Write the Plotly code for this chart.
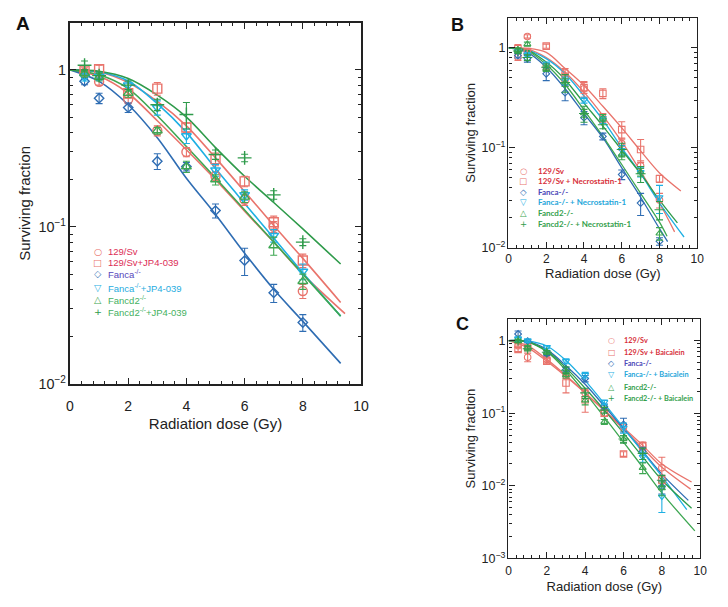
import plotly.graph_objects as go

# page is drawn with an 8px body margin; keep the figure inside the window
OFF = 8
W, H = 728 - 2 * OFF, 607 - 2 * OFF


def PX(p):
    return (p - OFF) / W


def PY(p):
    return 1 - (p - OFF) / H


# ---------------- data ----------------
dose = [0.5, 1, 2, 3, 4, 5, 6, 7, 8]

# Panel A (JP4-039)
A_sv = [0.96, 0.84, 0.65, 0.41, 0.30, 0.21, 0.149, 0.10, 0.039]
A_sv_err = [0.04, 0.04, 0.04, 0.03, 0.02, 0.015, 0.012, 0.008, 0.004]
A_svjp = [0.99, 1.01, 0.71, 0.76, 0.43, 0.27, 0.195, 0.107, 0.061]
A_svjp_err = [0.05, 0.06, 0.05, 0.07, 0.03, 0.025, 0.015, 0.01, 0.006]
A_fanca = [0.845, 0.66, 0.575, 0.262, 0.242, 0.127, 0.061, 0.038, 0.0246]
A_fanca_err = [0.04, 0.05, 0.04, 0.03, 0.015, 0.013, 0.012, 0.005, 0.003]
A_fancajp = [0.90, 0.91, 0.80, 0.575, 0.38, 0.23, 0.16, 0.088, 0.052]
A_fancajp_err = [0.05, 0.05, 0.05, 0.06, 0.04, 0.02, 0.012, 0.008, 0.006]
A_fancd2 = [0.95, 0.90, 0.71, 0.41, 0.242, 0.20, 0.155, 0.076, 0.045]
A_fancd2_err = [0.05, 0.05, 0.04, 0.02, 0.02, 0.015, 0.012, 0.01, 0.005]
A_fancd2jp = [1.07, 0.92, 0.80, 0.60, 0.52, 0.289, 0.275, 0.16, 0.080]
A_fancd2jp_err = [0.07, 0.05, 0.05, 0.05, 0.10, 0.02, 0.015, 0.01, 0.004]

A_fit_x = [0, 1, 2, 3, 4, 5, 6, 7, 8]
A_fit_end_x = [9.45, 9.3, 9.3, 9.3, 9.3, 9.3]
A_fit_sv = [1, 0.91, 0.71, 0.474, 0.31, 0.20, 0.126, 0.08, 0.05, 0.028]
A_fit_svjp = [1, 0.97, 0.83, 0.63, 0.44, 0.275, 0.168, 0.102, 0.063, 0.033]
A_fit_fanca = [1, 0.845, 0.60, 0.37, 0.204, 0.12, 0.068, 0.04, 0.025, 0.0135]
A_fit_fancajp = [1, 0.97, 0.85, 0.61, 0.40, 0.235, 0.141, 0.085, 0.051, 0.027]
A_fit_fancd2 = [1, 0.93, 0.76, 0.51, 0.325, 0.205, 0.128, 0.08, 0.05, 0.027]
A_fit_fancd2jp = [1, 0.98, 0.88, 0.69, 0.50, 0.32, 0.21, 0.143, 0.097, 0.058]

A_labels = ["129/Sv", "129/Sv+JP4-039", "Fanca<sup>-/-</sup>",
            "Fanca<sup>-/-</sup>+JP4-039", "Fancd2<sup>-/-</sup>",
            "Fancd2<sup>-/-</sup>+JP4-039"]

# Panel B (Necrostatin-1)
B_sv = [0.81, 1.3, 0.65, 0.57, 0.39, 0.20, 0.11, 0.066, 0.03]
B_sv_err = [0.06, 0.05, 0.05, 0.05, 0.07, 0.02, 0.015, 0.008, 0.005]
B_svnec = [0.98, 0.92, 1.04, 0.51, 0.40, 0.35, 0.152, 0.096, 0.049]
B_svnec_err = [0.1, 0.05, 0.05, 0.05, 0.05, 0.04, 0.03, 0.025, 0.004]
B_fanca = [0.84, 0.78, 0.55, 0.356, 0.20, 0.13, 0.054, 0.028, 0.0116]
B_fanca_err = [0.05, 0.06, 0.08, 0.06, 0.03, 0.01, 0.006, 0.007, 0.001]
B_fancanec = [0.92, 0.85, 0.68, 0.47, 0.30, 0.19, 0.095, 0.057, 0.032]
B_fancanec_err = [0.04, 0.04, 0.04, 0.04, 0.02, 0.015, 0.01, 0.006, 0.01]
B_fancd2 = [0.95, 1.09, 0.62, 0.45, 0.222, 0.20, 0.086, 0.057, 0.0139]
B_fancd2_err = [0.05, 0.05, 0.04, 0.04, 0.02, 0.015, 0.01, 0.005, 0.002]
B_fancd2nec = [0.93, 0.80, 0.64, 0.45, 0.22, 0.17, 0.096, 0.055, 0.024]
B_fancd2nec_err = [0.05, 0.05, 0.05, 0.09, 0.04, 0.015, 0.015, 0.01, 0.005]

B_fit_x = [0, 1, 2, 3, 4, 5, 6, 7, 8]
B_fit_end_x = [8.8, 9.13, 8.43, 9.3, 8.4, 8.95]
B_fit_sv = [1, 0.97, 0.80, 0.57, 0.36, 0.21, 0.115, 0.058, 0.028, 0.0144]
B_fit_svnec = [1, 0.99, 0.90, 0.62, 0.42, 0.26, 0.158, 0.093, 0.056, 0.037]
B_fit_fanca = [1, 0.90, 0.64, 0.39, 0.22, 0.126, 0.063, 0.032, 0.0155, 0.0115]
B_fit_fancanec = [1, 0.95, 0.78, 0.55, 0.33, 0.19, 0.10, 0.055, 0.028, 0.0128]
B_fit_fancd2 = [1, 0.93, 0.68, 0.43, 0.24, 0.13, 0.068, 0.035, 0.018, 0.013]
B_fit_fancd2nec = [1, 0.95, 0.72, 0.48, 0.28, 0.165, 0.095, 0.055, 0.03, 0.0177]

B_labels = ["129/Sv", "129/Sv + Necrostatin-1", "Fanca-/-",
            "Fanca-/- + Necrostatin-1", "Fancd2-/-", "Fancd2-/- + Necrostatin-1"]

# Panel C (Baicalein)
C_sv = [0.85, 0.59, 0.55, 0.33, 0.19, 0.10, 0.065, 0.036, 0.0177]
C_sv_err = [0.05, 0.08, 0.04, 0.03, 0.02, 0.01, 0.006, 0.004, 0.007]
C_svbai = [0.755, 0.80, 0.52, 0.26, 0.153, 0.10, 0.0274, 0.0355, 0.012]
C_svbai_err = [0.05, 0.04, 0.04, 0.07, 0.05, 0.01, 0.002, 0.004, 0.002]
C_fanca = [1.23, 0.98, 0.66, 0.40, 0.30, 0.124, 0.07, 0.030, 0.0097]
C_fanca_err = [0.12, 0.05, 0.04, 0.03, 0.03, 0.01, 0.015, 0.004, 0.002]
C_fancabai = [1.05, 1.0, 0.81, 0.52, 0.335, 0.142, 0.063, 0.025, 0.0071]
C_fancabai_err = [0.08, 0.05, 0.04, 0.04, 0.03, 0.01, 0.01, 0.004, 0.0028]
C_fancd2 = [0.98, 0.80, 0.69, 0.335, 0.15, 0.076, 0.044, 0.0177, 0.0093]
C_fancd2_err = [0.05, 0.05, 0.04, 0.03, 0.02, 0.006, 0.005, 0.003, 0.002]
C_fancd2bai = [1.0, 0.77, 0.69, 0.39, 0.19, 0.11, 0.044, 0.028, 0.0119]
C_fancd2bai_err = [0.05, 0.05, 0.04, 0.04, 0.03, 0.01, 0.005, 0.005, 0.002]

C_fit_x = [0, 1, 2, 3, 4, 5, 6, 7, 8]
C_fit_end_x = [9.55, 9.5, 9.38, 9.3, 9.72, 9.55]
C_fit_sv = [1, 0.80, 0.52, 0.32, 0.19, 0.11, 0.063, 0.036, 0.02, 0.0113]
C_fit_svbai = [1, 0.85, 0.55, 0.33, 0.19, 0.108, 0.06, 0.033, 0.018, 0.009]
C_fit_fanca = [1, 0.97, 0.75, 0.45, 0.25, 0.125, 0.062, 0.03, 0.0145, 0.0063]
C_fit_fancabai = [1, 0.99, 0.84, 0.53, 0.28, 0.135, 0.063, 0.029, 0.0135, 0.0047]
C_fit_fancd2 = [1, 0.95, 0.70, 0.39, 0.19, 0.088, 0.04, 0.018, 0.008, 0.0024]
C_fit_fancd2bai = [1, 0.96, 0.72, 0.42, 0.22, 0.11, 0.053, 0.025, 0.012, 0.0049]

C_labels = ["129/Sv", "129/Sv + Baicalein", "Fanca-/-",
            "Fanca-/- + Baicalein", "Fancd2-/-", "Fancd2-/- + Baicalein"]

# ---------------- styles ----------------
RED = "#e9746c"
BLUE = "#2f6db3"
CYAN = "#1fb0e3"
GREEN = "#3ea752"
GREEN2 = "#2f9b4b"
series_colors = [RED, RED, BLUE, CYAN, GREEN, GREEN2]
symbols = ["circle-open", "square-open", "diamond-open",
           "triangle-down-open", "triangle-up-open", "cross-thin-open"]
size_scale = [1.0, 1.0, 0.8, 0.95, 0.95, 1.1]
leg_glyphs = ["○", "□", "◇", "▽", "△", "+"]
leg_text_colors = ["#dc2d55", "#dc2d55", "#5646bb", "#27ace0", "#45b15f", "#45b15f"]
leg_text_colors_bc = ["#d7303a", "#d7303a", "#4b47b8", "#25a6da", "#34a04c", "#34a04c"]

FONT = "Liberation Sans, Arial, sans-serif"

fig = go.Figure()


def add_panel(xa, ya, fit_x, ends, fits, series, errs, msize, lw, mlw):
    for i, fy in enumerate(fits):
        fig.add_trace(go.Scatter(
            x=fit_x + [ends[i]], y=fy, mode="lines",
            line=dict(color=series_colors[i], width=lw, shape="spline", smoothing=0.9),
            xaxis=xa, yaxis=ya, showlegend=False, hoverinfo="skip"))
    for i, sy in enumerate(series):
        fig.add_trace(go.Scatter(
            x=dose, y=sy, mode="markers",
            marker=dict(symbol=symbols[i], size=msize * size_scale[i],
                        color=series_colors[i],
                        line=dict(color=series_colors[i], width=mlw)),
            error_y=dict(type="data", array=errs[i], visible=True,
                         color=series_colors[i], thickness=1.1, width=3.5),
            xaxis=xa, yaxis=ya, showlegend=False))


add_panel("x", "y", A_fit_x, A_fit_end_x,
          [A_fit_sv, A_fit_svjp, A_fit_fanca, A_fit_fancajp, A_fit_fancd2, A_fit_fancd2jp],
          [A_sv, A_svjp, A_fanca, A_fancajp, A_fancd2, A_fancd2jp],
          [A_sv_err, A_svjp_err, A_fanca_err, A_fancajp_err, A_fancd2_err, A_fancd2jp_err],
          9, 1.6, 1.4)
add_panel("x2", "y2", B_fit_x, B_fit_end_x,
          [B_fit_sv, B_fit_svnec, B_fit_fanca, B_fit_fancanec, B_fit_fancd2, B_fit_fancd2nec],
          [B_sv, B_svnec, B_fanca, B_fancanec, B_fancd2, B_fancd2nec],
          [B_sv_err, B_svnec_err, B_fanca_err, B_fancanec_err, B_fancd2_err, B_fancd2nec_err],
          6.5, 1.3, 1.1)
add_panel("x3", "y3", C_fit_x, C_fit_end_x,
          [C_fit_sv, C_fit_svbai, C_fit_fanca, C_fit_fancabai, C_fit_fancd2, C_fit_fancd2bai],
          [C_sv, C_svbai, C_fanca, C_fancabai, C_fancd2, C_fancd2bai],
          [C_sv_err, C_svbai_err, C_fanca_err, C_fancabai_err, C_fancd2_err, C_fancd2bai_err],
          6.5, 1.3, 1.1)


def xaxis(dom, fs, tfs, lw, standoff, anchor, lab_gap):
    return dict(domain=[PX(dom[0]), PX(dom[1])], range=[0, 10], dtick=2, anchor=anchor,
                ticks="inside", ticklen=6, tickwidth=1, tickcolor="#222",
                minor=dict(ticks="inside", ticklen=3, dtick=0.4, tickcolor="#222"),
                showline=True, linecolor="#222", linewidth=lw, mirror="allticks",
                showgrid=False, zeroline=False, ticklabelstandoff=lab_gap,
                tickfont=dict(family=FONT, size=fs, color="#222"),
                title=dict(text="Radiation dose (Gy)", standoff=standoff,
                           font=dict(family=FONT, size=tfs, color="#222")))


def yaxis(dom, rng, fs, tfs, lw, standoff, anchor):
    return dict(domain=[PY(dom[1]), PY(dom[0])], type="log", range=rng,
                dtick=1, exponentformat="power", anchor=anchor,
                ticks="inside", ticklen=6, tickwidth=1, tickcolor="#222",
                minor=dict(ticks="inside", ticklen=3, dtick="D1", tickcolor="#222"),
                showline=True, linecolor="#222", linewidth=lw, mirror="allticks",
                showgrid=False, zeroline=False,
                tickfont=dict(family=FONT, size=fs, color="#222"),
                title=dict(text="Surviving fraction", standoff=standoff,
                           font=dict(family=FONT, size=tfs, color="#222")))


fig.update_layout(
    width=W, height=H, margin=dict(l=0, r=0, t=0, b=0),
    paper_bgcolor="white", plot_bgcolor="white", showlegend=False,
    xaxis=xaxis((67, 363), 14, 15, 1.6, 5, "y", 9),
    yaxis=yaxis((23, 389), [-2, 0.3], 11.5, 15, 1.6, 4, "x"),
    xaxis2=xaxis((513, 705), 12, 13, 1.1, 2, "y2", 0),
    yaxis2=yaxis((18, 251), [-2, 0.3], 10, 13, 1.1, 2, "x2"),
    xaxis3=xaxis((513, 708), 12, 13, 1.1, 5, "y3", 1),
    yaxis3=yaxis((323, 566), [-3, 0.3], 10, 13, 1.1, 2, "x3"),
)

ann = []


def label(text, x, y, size, color="#111", font=FONT, anchor="center"):
    ann.append(dict(text=text, x=PX(x), y=PY(y), xref="paper", yref="paper",
                    showarrow=False, xanchor=anchor, yanchor="middle",
                    font=dict(family=font, size=size, color=color)))


label("<b>A</b>", 19, 24, 19)
label("<b>B</b>", 461, 25, 18)
label("<b>C</b>", 466, 328, 18)

# legends drawn as text (symbol glyph + coloured label)
A_rows = [255, 266, 277.5, 291.5, 304, 316]
for i, t in enumerate(A_labels):
    label(leg_glyphs[i], 95, A_rows[i], 9.5, color=series_colors[i],
          font="DejaVu Sans")
    label(t, 104, A_rows[i], 9.5, color=leg_text_colors[i], anchor="left")

B_rows = [173, 183.5, 194.5, 205, 216, 227]
for i, t in enumerate(B_labels):
    label(leg_glyphs[i], 528, B_rows[i], 8.5, color=series_colors[i], font="DejaVu Sans")
    label("<b>" + t + "</b>", 541, B_rows[i], 8, color=leg_text_colors_bc[i],
          font="Lato, sans-serif", anchor="left")

C_rows = [345, 357, 368.5, 380, 393, 403.5]
for i, t in enumerate(C_labels):
    label(leg_glyphs[i], 618, C_rows[i], 8, color=series_colors[i], font="DejaVu Sans")
    label("<b>" + t + "</b>", 628, C_rows[i], 7.3, color=leg_text_colors_bc[i],
          font="Lato, sans-serif", anchor="left")

fig.update_layout(annotations=ann)
fig.write_html("out.html")
